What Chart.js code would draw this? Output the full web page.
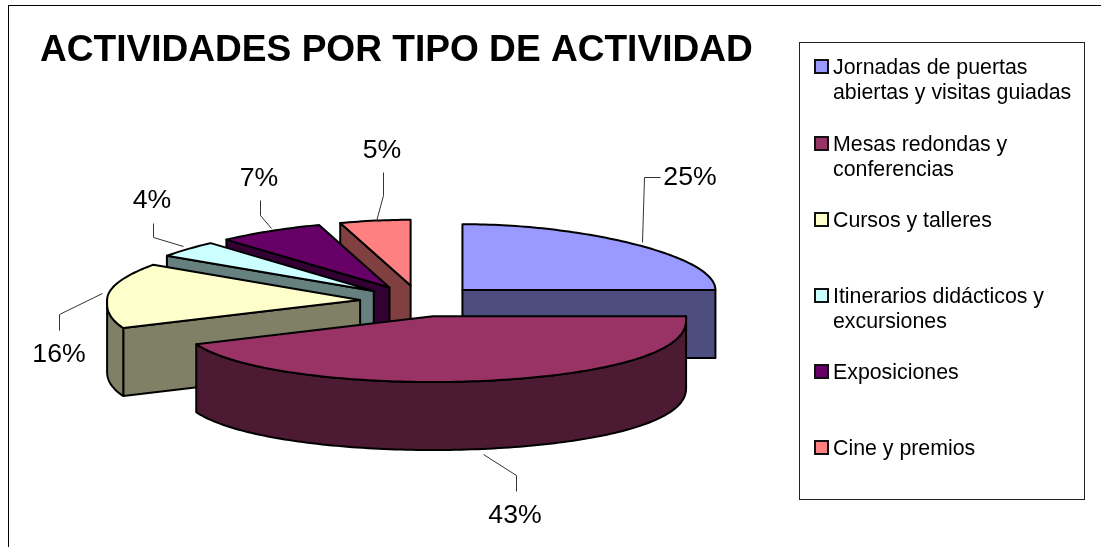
<!DOCTYPE html>
<html>
<head>
<meta charset="utf-8">
<style>
  html, body { margin: 0; padding: 0; background: #fff; }
  #wrap { position: relative; width: 1101px; height: 547px; overflow: hidden; }
</style>
</head>
<body>
<div id="wrap"><canvas id="chart" width="1101" height="547"></canvas></div>
<script src="https://cdn.jsdelivr.net/npm/chart.js@4/dist/chart.umd.min.js"></script>
<script>
// --- data --- //
const chartTitle = 'ACTIVIDADES POR TIPO DE ACTIVIDAD';
const categories = [
    'Jornadas de puertas abiertas y visitas guiadas',
    'Mesas redondas y conferencias',
    'Cursos y talleres',
    'Itinerarios didácticos y excursiones',
    'Exposiciones',
    'Cine y premios'
];
const legendLines = [
    ['Jornadas de puertas', 'abiertas y visitas guiadas'],
    ['Mesas redondas y', 'conferencias'],
    ['Cursos y talleres'],
    ['Itinerarios didácticos y', 'excursiones'],
    ['Exposiciones'],
    ['Cine y premios']
];
const values = [25, 43, 16, 4, 7, 5];
const topColors = ['#9999FF', '#993366', '#FFFFCC', '#CCFFFF', '#660066', '#FF8080'];
const wallColors = ['#4D4D80', '#4D1A33', '#808066', '#668080', '#330033', '#804040'];

// --- layout of the fake 3D pie --- //
const FONT = '"Liberation Sans", Arial, sans-serif';
const PIE = { cx: 420, cy: 301, radius: 253, squash: 0.26, explode: 60, depth: 68, front: 0.11, rear: 0.11 };
const DRAW_ORDER = [5, 4, 3, 2, 0, 1]; // back to front
const LABELS = [
    { x: 690, y: 175, line: [[642, 242], [644, 177], [660, 177]] },
    { x: 515, y: 513, line: [[483, 454], [516, 475], [516, 491]] },
    { x: 59, y: 352, line: [[102, 293], [59, 314], [59, 330]] },
    { x: 152, y: 198, line: [[183, 246], [153, 237], [153, 223]] },
    { x: 259, y: 176, line: [[271, 228], [260, 215], [260, 200]] },
    { x: 382, y: 148, line: [[376, 221], [383, 195], [383, 172]] }
];
const LEGEND = { x: 799, y: 42, w: 285, h: 457, rows: [67, 144, 220, 296, 372, 448], lineGap: 25 };

function sliceOrigin(arc) {
    const mid = (arc.startAngle + arc.endAngle) / 2;
    return {
        ox: PIE.cx + Math.cos(mid) * PIE.explode,
        oy: PIE.cy + Math.sin(mid) * PIE.explode * PIE.squash
    };
}

// point on the rim: rim gets wider towards the viewer, narrower at the back
function rimPoint(g, angle, r) {
    const s = Math.sin(angle);
    const f = s < 0 ? 1 - PIE.rear * s * s : 1 + PIE.front * s * s / (s + 0.15);
    return [g.ox + Math.cos(angle) * r * f, g.oy + s * r * PIE.squash];
}

function traceRim(ctx, g, from, to, r, dy) {
    const steps = Math.max(2, Math.ceil(Math.abs(to - from) / 0.02));
    for (let s = 0; s <= steps; s++) {
        const p = rimPoint(g, from + (to - from) * s / steps, r);
        ctx.lineTo(p[0], p[1] + dy);
    }
}

function penStyle(ctx) {
    ctx.strokeStyle = '#000';
    ctx.lineWidth = 2;
    ctx.lineJoin = 'round';
}

function drawWalls(ctx, arc, g, color) {
    const r = arc.outerRadius;
    const a1 = arc.startAngle;
    const a2 = arc.endAngle;
    ctx.fillStyle = color;
    penStyle(ctx);

    // flat cut faces, only those turned to the viewer
    [[a1, Math.sin(a1 - Math.PI / 2)], [a2, Math.sin(a2 + Math.PI / 2)]].forEach(([a, facing]) => {
        if (facing <= 0.001) return;
        const p = rimPoint(g, a, r);
        ctx.beginPath();
        ctx.moveTo(g.ox, g.oy);
        ctx.lineTo(p[0], p[1]);
        ctx.lineTo(p[0], p[1] + PIE.depth);
        ctx.lineTo(g.ox, g.oy + PIE.depth);
        ctx.closePath();
        ctx.fill();
        ctx.stroke();
    });

    // curved outer wall, front half of the rim only
    for (let k = -1; k <= 1; k++) {
        const from = Math.max(a1, k * 2 * Math.PI);
        const to = Math.min(a2, k * 2 * Math.PI + Math.PI);
        if (to <= from) continue;
        ctx.beginPath();
        traceRim(ctx, g, from, to, r, 0);
        traceRim(ctx, g, to, from, r, PIE.depth);
        ctx.closePath();
        ctx.fill();
        ctx.stroke();
    }
}

const pie3d = {
    id: 'pie3d',
    beforeDraw(chart) {
        const ctx = chart.ctx;
        ctx.save();
        ctx.fillStyle = '#fff';
        ctx.fillRect(0, 0, chart.width, chart.height);
        ctx.strokeStyle = '#000';
        ctx.lineWidth = 1;
        ctx.strokeRect(8.5, 5.5, 1200, 1200);
        ctx.restore();
    },
    beforeDatasetDraw(chart) {
        const ctx = chart.ctx;
        const arcs = chart.getDatasetMeta(0).data;
        DRAW_ORDER.forEach(i => {
            const arc = arcs[i];
            const g = sliceOrigin(arc);
            ctx.save();
            drawWalls(ctx, arc, g, wallColors[i]);

            // top face, angles and colour come from the library's arc element
            ctx.beginPath();
            ctx.moveTo(g.ox, g.oy);
            traceRim(ctx, g, arc.startAngle, arc.endAngle, arc.outerRadius, 0);
            ctx.closePath();
            ctx.fillStyle = arc.options.backgroundColor;
            ctx.fill();
            penStyle(ctx);
            ctx.stroke();
            ctx.restore();
        });
        return false; // slices are done above, in depth order
    },
    afterDraw(chart) {
        const ctx = chart.ctx;
        ctx.save();

        // percent labels with leader lines
        const total = values.reduce((a, b) => a + b, 0);
        ctx.textAlign = 'center';
        ctx.textBaseline = 'alphabetic';
        ctx.font = '26.67px ' + FONT;
        LABELS.forEach((l, i) => {
            ctx.beginPath();
            l.line.forEach((p, j) => j ? ctx.lineTo(p[0] + .5, p[1] + .5) : ctx.moveTo(p[0] + .5, p[1] + .5));
            ctx.strokeStyle = '#333';
            ctx.lineWidth = 1;
            ctx.stroke();
            ctx.fillStyle = '#000';
            ctx.fillText(Math.round(values[i] / total * 100) + '%', l.x, l.y + 9.5);
        });

        // legend box
        ctx.strokeStyle = '#222';
        ctx.lineWidth = 1;
        ctx.fillStyle = '#fff';
        ctx.fillRect(LEGEND.x, LEGEND.y, LEGEND.w, LEGEND.h);
        ctx.strokeRect(LEGEND.x + .5, LEGEND.y + .5, LEGEND.w, LEGEND.h);
        ctx.textAlign = 'left';
        ctx.font = '21.33px ' + FONT;
        legendLines.forEach((lines, i) => {
            const y = LEGEND.rows[i];
            ctx.fillStyle = topColors[i];
            ctx.fillRect(815, y - 7, 13, 13);
            ctx.lineWidth = 2;
            ctx.strokeStyle = '#111';
            ctx.strokeRect(815, y - 7, 13, 13);
            ctx.fillStyle = '#000';
            lines.forEach((t, j) => ctx.fillText(t, 833, y + 7 + j * LEGEND.lineGap));
        });
        ctx.restore();
    }
};

new Chart(document.getElementById('chart'), {
    type: 'pie',
    data: {
        labels: categories,
        datasets: [{
            data: values,
            backgroundColor: topColors,
            borderWidth: 0
        }]
    },
    options: {
        responsive: false,
        animation: false,
        radius: PIE.radius,
        layout: { padding: { left: 40 } },
        plugins: {
            legend: { display: false },
            tooltip: { enabled: false },
            title: {
                display: true,
                text: chartTitle,
                align: 'start',
                color: '#000',
                font: { family: FONT, size: 37.1, weight: 'bold' },
                padding: { top: 29, bottom: 0 }
            }
        }
    },
    plugins: [pie3d]
});
</script>
</body>
</html>
